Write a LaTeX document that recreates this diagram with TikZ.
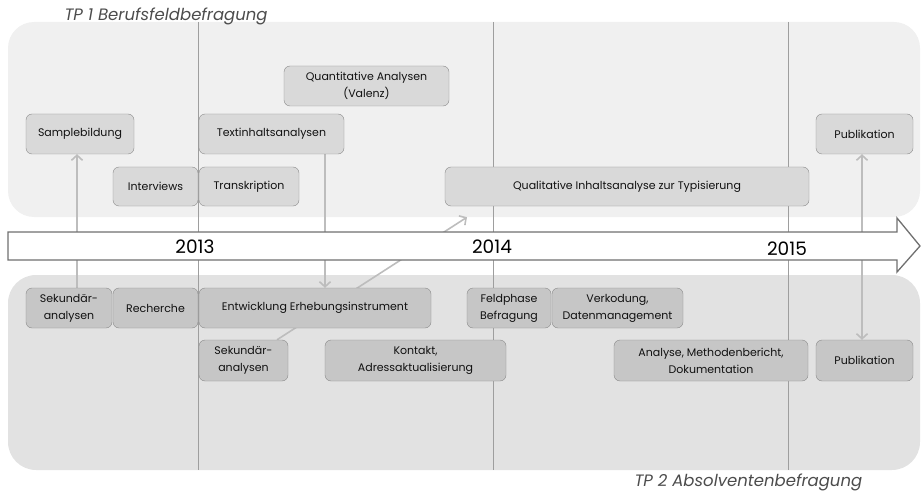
\documentclass[tikz,border=0pt]{standalone}
\usepackage{fontspec}
\setmainfont{Poppins}
\usetikzlibrary{arrows.meta}
\definecolor{paneltop}{HTML}{F0F0F0}
\definecolor{panelbot}{HTML}{E2E2E2}
\definecolor{boxtop}{HTML}{D9D9D9}
\definecolor{boxbot}{HTML}{C6C6C6}
\definecolor{boxline}{HTML}{8A8A8A}
\definecolor{linkgray}{HTML}{BDBDBD}
\definecolor{txt}{HTML}{111111}
\pgfdeclarelayer{bg}
\pgfsetlayers{bg,main}
\tikzset{
  tbox/.style={draw=boxline, fill=boxtop, rounded corners=6pt, text=txt, align=center,
    inner sep=0pt, font=\fontsize{11}{17}\selectfont},
  bbox/.style={tbox, fill=boxbot},
  link/.style={draw=linkgray, line width=1.6pt, >={Straight Barb[length=5pt,width=11pt]}},
  yearline/.style={draw=black!38, line width=0.7pt},
  year/.style={text=black, font=\fontsize{18.5}{20}\selectfont},
  tp/.style={text=black!70, anchor=west, font=\itshape\fontsize{16.5}{19}\selectfont},
}
\begin{document}
\begin{tikzpicture}[x=1pt,y=-1pt]
  \useasboundingbox (0,0) rectangle (921,492);
  % TP 1
  \node[tbox, minimum width=108pt, minimum height=40pt] (sample) at (80,134) {Samplebildung};
  \node[tbox, minimum width=85pt, minimum height=39pt] (interv) at (155.5,186.5) {Interviews};
  \node[tbox, minimum width=100pt, minimum height=39pt] (transk) at (249,186.5) {Transkription};
  \node[tbox, minimum width=145pt, minimum height=40pt] (textin) at (271.5,134) {Textinhaltsanalysen};
  \node[tbox, minimum width=165pt, minimum height=40pt] (quant) at (366.5,86) {Quantitative Analysen\\(Valenz)};
  \node[tbox, minimum width=364pt, minimum height=39pt] (qual) at (627,186.5) {Qualitative Inhaltsanalyse zur Typisierung};
  \node[tbox, minimum width=97pt, minimum height=40pt] (pubtop) at (864.5,134) {Publikation};
  % TP 2
  \node[bbox, minimum width=86pt, minimum height=40pt] (sek1) at (69,308) {Sekundär-\\analysen};
  \node[bbox, minimum width=85pt, minimum height=40pt] (rech) at (155.5,308) {Recherche};
  \node[bbox, minimum width=232pt, minimum height=40pt] (entw) at (315,308) {Entwicklung Erhebungsinstrument};
  \node[bbox, minimum width=89pt, minimum height=41pt] (sek2) at (243.5,360.5) {Sekundär-\\analysen};
  \node[bbox, minimum width=181pt, minimum height=41pt] (kont) at (415.5,360.5) {Kontakt,\\Adressaktualisierung};
  \node[bbox, minimum width=84pt, minimum height=40pt] (feld) at (509,308) {Feldphase\\Befragung};
  \node[bbox, minimum width=131pt, minimum height=40pt] (verk) at (617.5,308) {Verkodung,\\Datenmanagement};
  \node[bbox, minimum width=194pt, minimum height=41pt] (anal) at (711,360.5) {Analyse, Methodenbericht,\\Dokumentation};
  \node[bbox, minimum width=97pt, minimum height=41pt] (pubbot) at (864.5,360.5) {Publikation};
  % labels
  \node[tp] (tp1) at (61,16) {TP 1 Berufsfeldbefragung};
  \node[tp] (tp2) at (631,482) {TP 2 Absolventenbefragung};
  \node[year] (y13) at (195,247) {2013};
  \node[year] (y14) at (492,247) {2014};
  \node[year] (y15) at (787,249) {2015};
  \begin{pgfonlayer}{bg}
    \fill[paneltop, rounded corners=26pt] (8,22) rectangle (920,217);
    \fill[panelbot, rounded corners=28pt] (8,275) rectangle (920,470);
    \foreach \x in {198,493,788}
      \draw[yearline] (\x,22) -- (\x,470);
    \draw[link,->] ([xshift=8pt]sek1.north) coordinate (s1) -- (s1 |- sample.south);
    \draw[link,->] ([xshift=53.5pt]textin.south) coordinate (t1) -- (t1 |- entw.north);
    \draw[link,->] ([xshift=33.5pt]sek2.north) -- ([xshift=-160pt,yshift=-11pt]qual.south);
    \draw[link,<->] ([xshift=-2.5pt]pubtop.south) coordinate (p1) -- (p1 |- pubbot.north);
    \draw[draw=black!56, fill=white, line width=1.3pt, line join=miter]
      (8,232) -- (897,232) -- (897,218) -- (920,246) -- (897,272) -- (897,260) -- (8,260) -- cycle;
  \end{pgfonlayer}
\end{tikzpicture}
\end{document}
